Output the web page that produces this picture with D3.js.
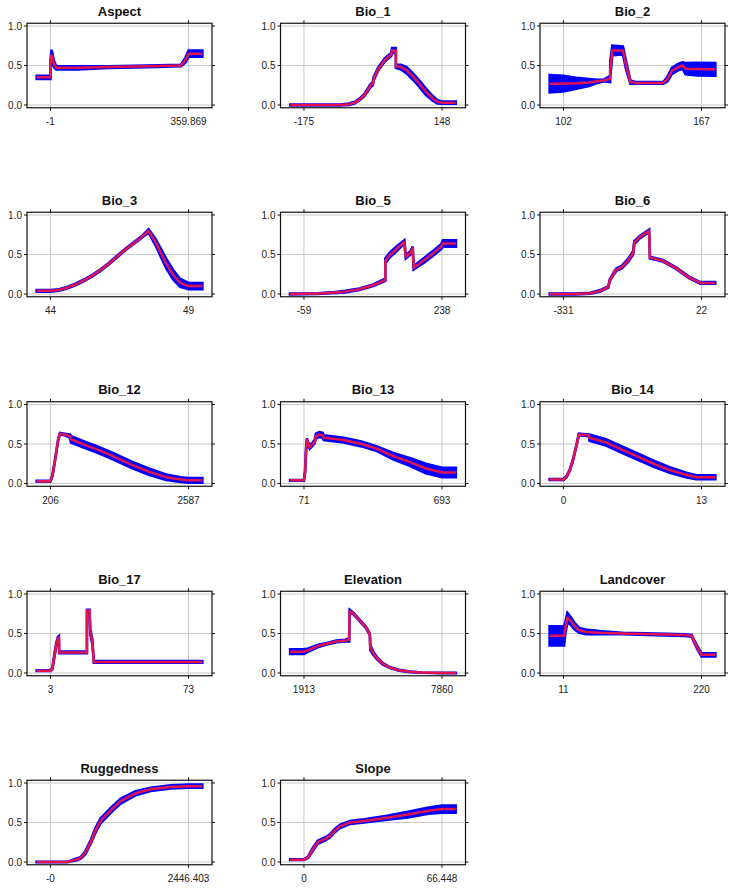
<!DOCTYPE html>
<html>
<head>
<meta charset="utf-8">
<script src="https://cdn.jsdelivr.net/npm/d3@7"></script>
<style>
  html, body { margin: 0; padding: 0; background: #fff; }
  svg { display: block; }
</style>
</head>
<body>
<svg id="chart" width="735" height="889"></svg>
<script>
// ---- Data (x, mean, sd) ----
const panelNames = ["Aspect","Bio_1","Bio_2","Bio_3","Bio_5","Bio_6","Bio_12","Bio_13","Bio_14","Bio_17","Elevation","Landcover","Ruggedness","Slope"];
const xMins = [-1, -175, 102, 44, -59, -331, 206, 71, 0, 3, 1913, 11, 0, 0];
const xMaxs = [359.869, 148, 167, 49, 238, 22, 2587, 693, 13, 73, 7860, 220, 2446.403, 66.448];
const xTickLabels = [["-1","359.869"],["-175","148"],["102","167"],["44","49"],["-59","238"],["-331","22"],["206","2587"],["71","693"],["0","13"],["3","73"],["1913","7860"],["11","220"],["-0","2446.403"],["0","66.448"]];
const yTickValues = [0, 0.5, 1];
const yTickLabels = ["0.0","0.5","1.0"];

const aspect = [[-37,0.35,0.02],[-1,0.35,0.02],[-1,0.52,0.05],[2,0.63,0.07],[8,0.52,0.04],[14,0.47,0.02],[70,0.47,0.02],[150,0.48,0.01],[250,0.49,0.01],[340,0.50,0.01],[352,0.57,0.03],[360,0.65,0.04],[396,0.65,0.04]];
const bio1 = [[-207,0.0,0.005],[-90,0.0,0.005],[-70,0.01,0.01],[-56,0.03,0.01],[-45,0.07,0.01],[-33,0.13,0.015],[-20,0.24,0.02],[-14,0.27,0.02],[-12,0.33,0.02],[-2,0.45,0.02],[14,0.57,0.02],[29,0.64,0.02],[31,0.69,0.03],[40,0.69,0.03],[40,0.49,0.02],[52,0.48,0.03],[65,0.44,0.04],[80,0.36,0.04],[95,0.27,0.04],[110,0.17,0.04],[125,0.09,0.03],[137,0.04,0.02],[148,0.03,0.015],[180,0.03,0.015]];
const bio2 = [[95.5,0.27,0.11],[102,0.27,0.10],[108,0.275,0.07],[114,0.285,0.045],[118,0.30,0.02],[121,0.31,0.01],[124,0.33,0.04],[124,0.45,0.1],[125,0.69,0.06],[130,0.69,0.05],[131.5,0.5,0.05],[133.5,0.29,0.02],[136,0.28,0.01],[149,0.28,0.01],[151,0.33,0.03],[153,0.43,0.04],[156,0.48,0.04],[158,0.50,0.04],[159.5,0.46,0.07],[165,0.455,0.08],[173.5,0.45,0.08]];
const bio3 = [[43.5,0.04,0.01],[44,0.04,0.01],[44.3,0.05,0.01],[44.6,0.08,0.01],[44.9,0.12,0.01],[45.2,0.17,0.01],[45.5,0.23,0.01],[45.8,0.30,0.01],[46.1,0.38,0.01],[46.4,0.47,0.01],[46.7,0.56,0.01],[47.0,0.64,0.01],[47.3,0.72,0.01],[47.55,0.80,0.02],[47.8,0.66,0.04],[48.0,0.52,0.05],[48.2,0.38,0.06],[48.45,0.24,0.06],[48.7,0.14,0.05],[49.0,0.10,0.04],[49.5,0.10,0.04]];
const bio5 = [[-89,0.0,0.005],[-30,0.005,0.005],[0,0.015,0.005],[30,0.03,0.01],[60,0.06,0.01],[90,0.11,0.01],[116,0.18,0.015],[116,0.42,0.03],[125,0.49,0.03],[140,0.57,0.03],[157,0.66,0.02],[160,0.47,0.02],[170,0.52,0.02],[175,0.58,0.02],[177,0.33,0.02],[200,0.43,0.03],[220,0.52,0.03],[236,0.60,0.03],[240,0.64,0.04],[268,0.64,0.04]];
const bio6 = [[-366,0.0,0.005],[-300,0.0,0.005],[-262,0.01,0.005],[-237,0.04,0.01],[-216,0.09,0.01],[-213,0.17,0.01],[-200,0.28,0.015],[-195,0.31,0.015],[-182,0.34,0.015],[-165,0.43,0.02],[-153,0.52,0.02],[-150,0.65,0.02],[-136,0.72,0.015],[-112,0.80,0.015],[-110,0.46,0.01],[-77,0.42,0.01],[-44,0.33,0.01],[-10,0.21,0.01],[19,0.14,0.01],[57,0.14,0.01]];
const bio12 = [[-32,0.03,0.005],[206,0.03,0.005],[240,0.10,0.01],[290,0.32,0.01],[340,0.56,0.01],[370,0.63,0.01],[450,0.62,0.01],[540,0.60,0.02],[560,0.56,0.04],[800,0.49,0.04],[1050,0.42,0.04],[1300,0.34,0.04],[1600,0.24,0.04],[1900,0.15,0.04],[2200,0.08,0.035],[2450,0.05,0.03],[2587,0.04,0.03],[2825,0.04,0.03]];
const bio13 = [[9,0.04,0.005],[71,0.04,0.005],[76,0.15,0.02],[80,0.40,0.03],[84,0.55,0.02],[90,0.50,0.02],[97,0.46,0.02],[110,0.50,0.02],[119,0.53,0.02],[125,0.60,0.03],[140,0.62,0.03],[155,0.61,0.03],[160,0.58,0.03],[250,0.55,0.03],[330,0.50,0.03],[400,0.44,0.03],[470,0.35,0.04],[550,0.27,0.05],[620,0.19,0.06],[693,0.14,0.06],[755,0.14,0.06]];
const bio14 = [[-1.3,0.05,0.005],[0,0.05,0.005],[0.3,0.09,0.01],[0.6,0.17,0.01],[0.9,0.30,0.01],[1.2,0.47,0.01],[1.45,0.62,0.01],[2.4,0.61,0.01],[2.45,0.58,0.04],[4,0.52,0.04],[5.5,0.43,0.04],[7,0.34,0.04],[8.5,0.25,0.04],[10,0.17,0.035],[11.5,0.11,0.03],[12.5,0.08,0.025],[13,0.08,0.025],[14.3,0.08,0.025]];
const bio17 = [[-4,0.03,0.005],[3,0.03,0.005],[4,0.06,0.01],[5,0.22,0.02],[6,0.37,0.02],[6.8,0.44,0.02],[7.3,0.45,0.02],[7.4,0.26,0.01],[21.5,0.26,0.01],[21.5,0.79,0.01],[22.8,0.79,0.01],[23.2,0.52,0.03],[24.2,0.40,0.03],[25,0.14,0.01],[80,0.14,0.01]];
const elevation = [[1318,0.27,0.03],[1913,0.27,0.03],[2100,0.29,0.02],[2500,0.34,0.015],[2900,0.37,0.01],[3300,0.40,0.01],[3700,0.41,0.01],[3860,0.42,0.02],[3880,0.78,0.02],[4020,0.76,0.01],[4300,0.67,0.01],[4600,0.57,0.01],[4750,0.49,0.01],[4770,0.32,0.03],[4900,0.25,0.02],[5050,0.19,0.015],[5300,0.12,0.01],[5600,0.07,0.005],[6000,0.035,0.005],[6500,0.015,0.005],[7000,0.005,0.002],[7860,0.0,0.002],[8455,0.0,0.002]];
const landcover = [[-10,0.47,0.12],[12,0.47,0.12],[14,0.58,0.07],[17,0.70,0.06],[22,0.66,0.05],[28,0.59,0.04],[35,0.54,0.03],[45,0.52,0.03],[65,0.51,0.02],[100,0.50,0.01],[150,0.49,0.01],[195,0.48,0.01],[205,0.47,0.01],[213,0.33,0.02],[220,0.23,0.02],[241,0.23,0.02]];
const ruggedness = [[-245,0.0,0.003],[300,0.0,0.003],[354,0.01,0.005],[450,0.03,0.01],[532,0.05,0.01],[620,0.12,0.02],[709,0.25,0.02],[798,0.40,0.03],[886,0.52,0.03],[1064,0.65,0.03],[1241,0.77,0.03],[1507,0.87,0.025],[1773,0.92,0.02],[2127,0.95,0.02],[2446,0.96,0.02],[2691,0.96,0.02]];
const slope = [[-6.6,0.03,0.005],[0,0.03,0.005],[2,0.06,0.01],[4,0.15,0.02],[6.6,0.25,0.02],[10,0.29,0.02],[12.5,0.33,0.02],[15,0.40,0.02],[17.3,0.45,0.02],[22,0.50,0.02],[29,0.52,0.02],[40,0.56,0.025],[50,0.60,0.035],[60,0.65,0.04],[66.4,0.67,0.045],[73,0.67,0.045]];

const curves = [aspect, bio1, bio2, bio3, bio5, bio6, bio12, bio13, bio14, bio17, elevation, landcover, ruggedness, slope];

// ---- Layout ----
const svg = d3.select("#chart");
const colLeft = [27, 280.5, 540];
const boxW = 185;
const rowTop1 = [26, 215, 404.5, 594, 783]; // y of value 1.0
const unitH = 79;
const padFrac = 0.17;

const font = "'Liberation Sans', Arial, Helvetica, sans-serif";

panelNames.forEach((name, i) => {
  const r = Math.floor(i / 3), c = i % 3;
  const left = colLeft[c], right = left + boxW;
  const yOne = rowTop1[r], yZero = yOne + unitH;
  const rng = xMaxs[i] - xMins[i];
  const x = d3.scaleLinear().domain([xMins[i] - padFrac * rng, xMaxs[i] + padFrac * rng]).range([left, right]);
  const y = d3.scaleLinear().domain([0, 1]).range([yZero, yOne]);
  const top = y(1.035), bottom = y(-0.035);
  const g = svg.append("g");

  // grid
  yTickValues.forEach(v => {
    g.append("line").attr("x1", left).attr("x2", right).attr("y1", y(v)).attr("y2", y(v))
      .attr("stroke", "#c8c8c8").attr("stroke-width", 1);
  });
  [xMins[i], xMaxs[i]].forEach(v => {
    g.append("line").attr("x1", x(v)).attr("x2", x(v)).attr("y1", top).attr("y2", bottom)
      .attr("stroke", "#c8c8c8").attr("stroke-width", 1);
  });

  // curves
  const data = curves[i];
  const area = d3.area().x(d => x(d[0])).y0(d => y(d[1] - d[2])).y1(d => y(d[1] + d[2]));
  g.append("path").attr("d", area(data)).attr("fill", "#0000ff")
    .attr("stroke", "#0000ff").attr("stroke-width", 2.6).attr("stroke-linejoin", "miter");
  const line = d3.line().x(d => x(d[0])).y(d => y(d[1]));
  g.append("path").attr("d", line(data)).attr("fill", "none")
    .attr("stroke", "#e3134f").attr("stroke-width", 2.5).attr("stroke-linejoin", "round");

  // box
  g.append("rect").attr("x", left).attr("y", top).attr("width", boxW).attr("height", bottom - top)
    .attr("fill", "none").attr("stroke", "#111").attr("stroke-width", 1.2);

  // tick marks
  yTickValues.forEach(v => {
    g.append("line").attr("x1", left - 3).attr("x2", left).attr("y1", y(v)).attr("y2", y(v)).attr("stroke", "#111");
    g.append("line").attr("x1", right).attr("x2", right + 3).attr("y1", y(v)).attr("y2", y(v)).attr("stroke", "#111");
  });
  [xMins[i], xMaxs[i]].forEach(v => {
    g.append("line").attr("x1", x(v)).attr("x2", x(v)).attr("y1", bottom).attr("y2", bottom + 3).attr("stroke", "#111");
    g.append("line").attr("x1", x(v)).attr("x2", x(v)).attr("y1", top - 3).attr("y2", top).attr("stroke", "#111");
  });

  // y labels
  yTickValues.forEach((v, k) => {
    g.append("text").attr("x", left - 5).attr("y", y(v)).attr("dy", "0.36em")
      .attr("text-anchor", "end").attr("font-family", font).attr("font-size", 10)
      .attr("fill", "#222").text(yTickLabels[k]);
  });
  // x labels
  [xMins[i], xMaxs[i]].forEach((v, k) => {
    g.append("text").attr("x", x(v)).attr("y", yZero + 20)
      .attr("text-anchor", "middle").attr("font-family", font).attr("font-size", 10)
      .attr("fill", "#222").text(xTickLabels[i][k]);
  });
  // title
  g.append("text").attr("x", (left + right) / 2).attr("y", yOne - 10.5)
    .attr("text-anchor", "middle").attr("font-family", font).attr("font-size", 13)
    .attr("font-weight", "bold").attr("fill", "#111").text(name);
});
</script>
</body>
</html>
